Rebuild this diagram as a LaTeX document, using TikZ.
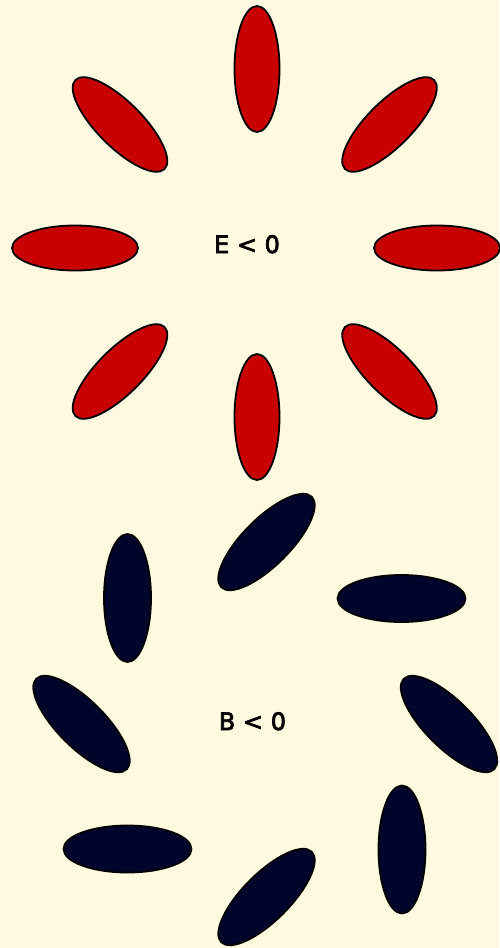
\documentclass[tikz,border=0pt]{standalone}
\usepackage{fontspec}
\setmainfont{DejaVu Sans}
\newfontfamily\lblfont[FakeBold=3]{DejaVu Sans}
\usetikzlibrary{shapes.geometric}
\definecolor{bgc}{HTML}{FFF9DF}
\definecolor{ered}{HTML}{C80000}
\definecolor{bnavy}{HTML}{00052B}
\tikzset{
  blob/.style={ellipse, draw=black, line width=1.8pt, inner sep=0pt, outer sep=0pt},
  eblob/.style={blob, fill=ered, minimum width=126pt, minimum height=45pt},
  bblob/.style={blob, fill=bnavy, minimum width=128pt, minimum height=47pt},
  lbl/.style={font=\lblfont\fontsize{24}{28}\selectfont, anchor=base, inner sep=0pt}
}
\begin{document}
\begin{tikzpicture}[x=1pt,y=-1pt]
\fill[bgc] (0,0) rectangle (499,948);
\useasboundingbox (0,0) rectangle (499,948);
% E < 0 pattern
\node[eblob, rotate=90]  (etop) at (257,69) {};
\node[eblob, rotate=90]  (ebot) at (257,417) {};
\node[eblob, rotate=0]   (eleft) at (75,248) {};
\node[eblob, rotate=0]   (eright) at (437,248) {};
\node[eblob, rotate=-45] (eul) at (120,124.5) {};
\node[eblob, rotate=45]  (eur) at (389.5,124.5) {};
\node[eblob, rotate=45]  (ell) at (120,371.5) {};
\node[eblob, rotate=-45] (elr) at (389.5,371.5) {};
\node[lbl] (elabel) at (247,253) {E < 0};
% B < 0 pattern
\node[bblob, rotate=45]  (btop) at (266.5,542) {};
\node[bblob, rotate=90]  (bul) at (127.5,598) {};
\node[bblob, rotate=0]   (bur) at (401.5,598.5) {};
\node[bblob, rotate=-45] (bleft) at (81.5,724) {};
\node[bblob, rotate=-45] (bright) at (449,724) {};
\node[bblob, rotate=0]   (bll) at (127.5,849) {};
\node[bblob, rotate=90]  (blr) at (402,849.5) {};
\node[bblob, rotate=45]  (bbot) at (266.5,897) {};
\node[lbl] (blabel) at (252.5,730) {B < 0};
\end{tikzpicture}
\end{document}
